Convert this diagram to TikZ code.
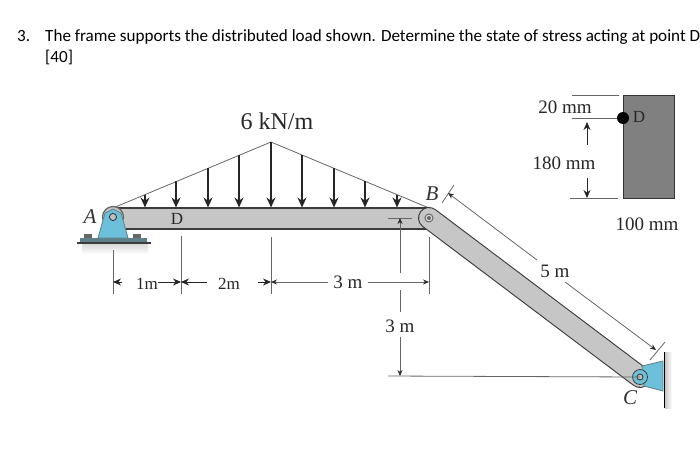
\documentclass[tikz,border=0pt]{standalone}
\usepackage{fontspec}
\usetikzlibrary{arrows.meta}
\setmainfont{Liberation Serif}
\newfontfamily\headfont{Carlito}
\definecolor{pinblue}{HTML}{6CC0DA}
\definecolor{bargray}{HTML}{C6C6C6}
\definecolor{edgegray}{HTML}{3C3C3C}
\definecolor{dimgray}{HTML}{666666}
\definecolor{platecol}{HTML}{5F8088}
\tikzset{
    head/.style={anchor=base west,inner sep=0pt,font=\headfont\fontsize{17.1}{19}\selectfont},
    dimtext/.style={inner sep=0pt,font=\fontsize{19}{21}\selectfont,text=black!85},
    smalltext/.style={inner sep=0pt,font=\fontsize{17}{19}\selectfont,text=black!85},
    pointtext/.style={inner sep=0pt,font=\itshape\fontsize{21}{23}\selectfont,text=black!80},
    dimline/.style={draw=dimgray,line width=0.8pt},
    dimarrow/.style={draw=dimgray,line width=0.8pt,-{Stealth[length=6pt,width=5pt,black!85]}},
    load/.style={draw=black!85,line width=1.5pt,-{Stealth[length=10pt,width=9pt]}},
    blockarrow/.style={draw=black!85,line width=0.9pt,-{Stealth[length=8pt,width=7pt]}}
}
\begin{document}
\begin{tikzpicture}[x=1pt,y=-1pt]
    \useasboundingbox (0,0) rectangle (700,472);
    \clip (0,0) rectangle (700,472);

    \node[head] (n3) at (17,41) {3.};
    \node[head] (title) at (45,41) {The frame supports the distributed load shown. Determine the state of stress acting at point D};
    \node[head] (n40) at (45,62) {[40]};

    \coordinate (a) at (113,217);
    \coordinate (b) at (429,218);
    \coordinate (c) at (640,377);
    \coordinate (apex) at (271,142);
    \coordinate (top0) at (113,208);
    \coordinate (top1) at (429,208);

    % shadows
    \shade[top color=black!15,bottom color=white] (82,244) rectangle (148,254);
    \shade[left color=black!22,right color=white] (665,352) rectangle (672,408);

    % load
    \draw[dimline] (top0) -- (apex) -- (top1);
    \foreach \x/\y in {145/195,176/181,208/168,239/155,271/142,302/155,334/168,365/181,397/195}
        \draw[load] (\x,\y) -- (\x,207.5);

    % horizontal bar
    \draw[draw=edgegray,fill=bargray,line width=1.2pt] (113,208) rectangle (429,229);

    % inclined bar
    \draw[draw=edgegray,line width=22pt,line cap=round] (b) -- (c);
    \draw[draw=bargray,line width=19.8pt,line cap=round] (b) -- (c);
    \draw[draw=dimgray,line width=1pt,fill=bargray!60] (b) circle (4);
    \fill[dimgray] (b) circle (2);

    % support at a
    \draw[draw=dimgray,line width=1.2pt,fill=bargray] (a) circle (10.5);
    \fill[platecol] (80,238) rectangle (147,243);
    \draw[edgegray,line width=1.2pt] (77,243) -- (151,243);
    \fill[dimgray] (84,234) rectangle (92,238);
    \fill[dimgray] (133,234) rectangle (141,238);
    \draw[draw=platecol,line width=0.8pt,fill=pinblue] (98,238) -- (105,213) -- (113,209) -- (121,213) -- (128,238) -- cycle;
    \draw[draw=edgegray,line width=0.9pt,fill=white!50!gray] (a) circle (3.6);

    % support at c
    \draw[draw=platecol,line width=0.8pt,fill=pinblue] (642,366) -- (663,361) -- (663,391) -- (644,386) -- cycle;
    \draw[draw=edgegray,line width=0.8pt,fill=pinblue] (c) circle (7.5);
    \draw[draw=edgegray,line width=0.9pt,fill=white!50!gray] (c) circle (3);
    \draw[black,line width=1pt] (664,352) -- (664,408);

    \node[pointtext] (la) at (90,217) {A};
    \node[pointtext] (lb) at (432,194) {B};
    \node[pointtext] (lc) at (630,398) {C};
    \node[smalltext] (ld) at (177,219) {D};
    \node[inner sep=0pt,font=\fontsize{24}{26}\selectfont,text=black!85] (load) at (277,121) {6 kN/m};

    % dimensions along the bar
    \coordinate (e1) at (113,250);
    \coordinate (e2) at (113,294);
    \coordinate (e3) at (181,236);
    \coordinate (e4) at (181,294);
    \coordinate (e5) at (271,237);
    \coordinate (e6) at (271,294);
    \coordinate (e7) at (429,237);
    \coordinate (e8) at (429,294);
    \draw[dimline] (e1) -- (e2);
    \draw[dimline] (e3) -- (e4);
    \draw[dimline] (e5) -- (e6);
    \draw[dimline] (e7) -- (e8);

    \node[smalltext] (l1) at (147,284) {1m};
    \node[smalltext] (l2) at (229,284) {2m};
    \node[dimtext] (l3) at (348,282) {3 m};
    \draw[blockarrow] (122,282) -- (e1 |- l3);
    \draw[blockarrow] (l1.east |- l3) -- (e3 |- l3);
    \draw[blockarrow] (207,282) -- (e3 |- l3);
    \draw[blockarrow] (258,282) -- (e5 |- l3);
    \draw[dimarrow] (l3.west) ++(-5,0) -- (e5 |- l3);
    \draw[dimarrow] (l3.east) ++(5,0) -- (e7 |- l3);

    % vertical 3 m
    \coordinate (t1) at (388,218);
    \coordinate (t2) at (412,218);
    \coordinate (t3) at (400,218);
    \coordinate (t4) at (388,376);
    \coordinate (t5) at (400,376);
    \node[dimtext] (l4) at (400,326) {3 m};
    \draw[dimline] (t1) -- (t2);
    \draw[dimline] (t4) -- (c);
    \draw[dimarrow] (400,273) -- (t3);
    \draw[dimline] (400,290) -- (400,312);
    \draw[dimarrow] (l4.south) ++(0,4) -- (t5);

    % inclined 5 m
    \coordinate (s1) at (442,203);
    \coordinate (s2) at (454,185);
    \coordinate (s3) at (448,193);
    \coordinate (s4) at (650,360);
    \coordinate (s5) at (665,342);
    \coordinate (s6) at (656,350);
    \node[dimtext] (l5) at (555,271) {5 m};
    \draw[dimline] (s1) -- (s2);
    \draw[dimline] (s4) -- (s5);
    \draw[dimarrow] (537,260) -- (s3);
    \draw[dimarrow] (565,282) -- (s6);

    % cross section
    \node[draw=black!80,fill=black!50,line width=0.9pt,minimum width=51pt,minimum height=103pt,inner sep=0pt] (sec) at (648.5,146.5) {};
    \fill[black] (623,118) circle (6);
    \node[smalltext] (l6) at (639,117) {D};
    \coordinate (d1) at (572,95);
    \coordinate (d2) at (619,95);
    \coordinate (d3) at (572,118);
    \coordinate (d4) at (617,118);
    \coordinate (d5) at (570,198);
    \coordinate (d6) at (618,198);
    \draw[dimline,line width=1pt] (d1) -- (d2);
    \draw[dimline,line width=1pt] (d3) -- (d4);
    \draw[dimline,line width=1pt] (d5) -- (d6);
    \node[dimtext] (l7) at (565,107) {20 mm};
    \node[dimtext] (l8) at (564,163) {180 mm};
    \node[dimtext] (l9) at (647,224) {100 mm};
    \draw[blockarrow] (587,145) -- (587,122);
    \draw[blockarrow] (587,178) -- (587,198);
\end{tikzpicture}
\end{document}
